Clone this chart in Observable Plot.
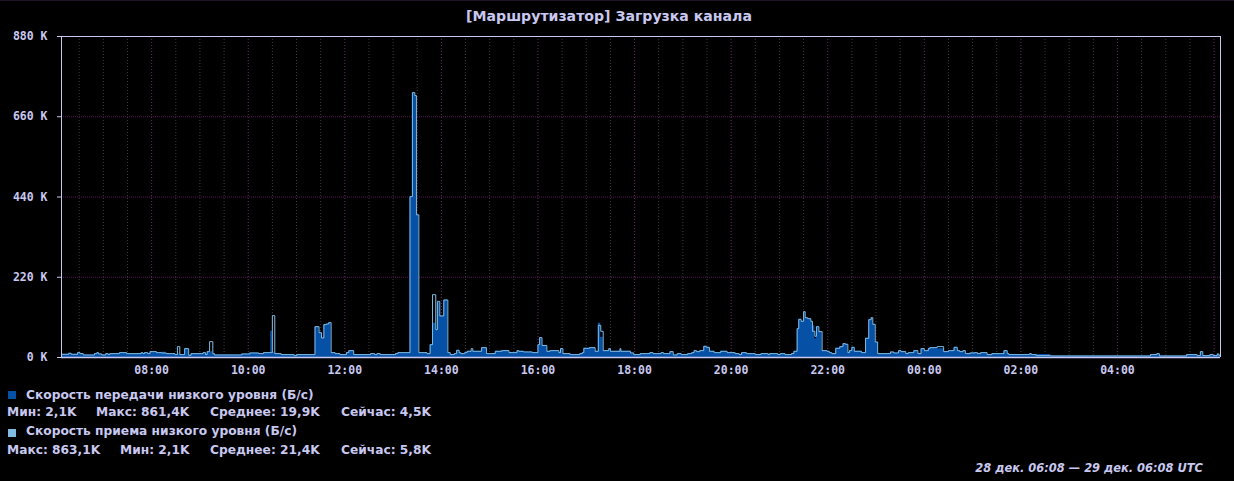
<!DOCTYPE html>
<html><head><meta charset="utf-8">
<script src="https://cdn.jsdelivr.net/npm/d3@7"></script>
<script src="https://cdn.jsdelivr.net/npm/@observablehq/plot@0.6"></script>
<style>
html,body{margin:0;padding:0;background:#000;}
body{width:1234px;height:481px;overflow:hidden;position:relative;font-family:"DejaVu Sans",sans-serif;color:#c8c8f0;}
#topline{position:absolute;left:0;top:0;width:1234px;height:1px;background:#1c1424;}
#title{position:absolute;left:0;top:0;width:1218px;text-align:center;font-weight:bold;line-height:32px;white-space:nowrap;}
#chart{position:absolute;left:0;top:26px;}
.t{position:absolute;font-weight:bold;line-height:14px;white-space:nowrap;}
.sq{position:absolute;width:8px;height:8px;}
#caption{position:absolute;right:31px;top:461px;font-weight:bold;font-style:italic;line-height:14px;white-space:nowrap;}
</style></head><body>
<div id="topline"></div>
<div id="title"></div>
<div id="chart"></div>
<div id="legend"></div>
<div id="caption"></div>
<script>
const titleText = "[Маршрутизатор] Загрузка канала";
const startISO = "2023-12-28T06:08:00Z";
const spanHours = 24;
const yTicksK = [0, 220, 440, 660, 880];
const seriesNames = ["Скорость передачи низкого уровня (Б/с)", "Скорость приема низкого уровня (Б/с)"];
const seriesColors = ["#0650a6", "#80bce2"];
const statsTx = [["Мин", "2,1K"], ["Макс", "861,4K"], ["Среднее", "19,9K"], ["Сейчас", "4,5K"]];
const statsRx = [["Макс", "863,1K"], ["Мин", "2,1K"], ["Среднее", "21,4K"], ["Сейчас", "5,8K"]];
const captionText = "28 дек. 06:08 — 29 дек. 06:08 UTC";

// step start, minutes after 06:08
const stepMin = [0,9,12,20,23,27,41,44,46,50,
 55,58,60,72,81,99,101,103,107,110,
 118,124,130,141,144,147,153,158,161,176,
 179,181,184,188,190,224,234,245,251,260,
 262,265,273,289,292,315,320,323,326,329,
 332,335,340,346,354,357,363,384,389,392,
 396,415,418,433,436,439,441,444,454,458,
 461,465,467,470,475,480,483,488,491,494,
 496,501,504,509,511,522,528,539,547,556,
 566,568,574,585,592,594,597,603,607,618,
 620,623,632,644,647,649,656,663,667,670,
 673,680,682,694,695,707,711,719,731,735,
 745,748,756,760,765,770,778,783,786,789,
 793,798,801,805,811,819,827,837,842,845,
 851,862,869,878,880,890,893,899,907,910,
 914,916,919,922,924,927,931,933,936,938,
 941,945,951,954,957,962,967,971,974,977,
 979,982,985,994,999,1003,1006,1008,1011,1014,
 1030,1034,1040,1043,1049,1052,1059,1064,1068,1072,
 1077,1079,1088,1096,1102,1109,1113,1116,1120,1123,
 1129,1135,1138,1142,1150,1156,1171,1175,1177,1203,
 1205,1211,1229,1353,1361,1364,1398,1411,1415,1418,
 1427,1431,1436,1438];
// receive (приема), K B/s
const rxK = [8.8,11.5,8.8,13.3,10.6,6.9,10.6,13.3,9.7,6.9,
 10.6,7.9,10.6,13.3,10.6,13.3,10.6,13.3,10.6,16.1,
 13.3,12.4,10.6,7.9,29.8,7.9,24.3,6.0,10.6,13.3,
 7.9,16.1,43.5,10.6,6.9,9.7,12.4,10.6,13.3,13.3,
 114.7,10.6,7.9,5.1,7.9,84.5,68.1,53.5,90.1,91.8,
 95.5,13.3,10.6,7.9,13.3,18.8,7.9,10.6,7.9,10.6,
 7.9,10.6,13.3,441,726,718,391,13.3,10.6,35.2,
 172.2,76.3,153.9,113.8,157.6,13.3,7.9,10.6,19.7,13.3,
 10.6,13.3,17.0,24.3,17.0,27.0,10.6,17.0,18.8,13.3,
 18.8,17.0,15.2,13.3,35.2,54.4,33.0,17.0,18.8,13.3,
 24.3,10.6,7.9,10.6,13.3,25.2,27.0,17.0,88.2,71.8,
 18.8,24.3,17.0,24.3,17.0,12.4,7.9,10.6,13.3,10.6,
 13.3,10.6,16.1,6.9,10.6,7.9,10.6,13.3,18.8,16.1,
 18.8,30.7,27.9,17.0,13.3,17.0,13.3,10.6,7.9,13.3,
 10.6,7.9,10.6,7.9,10.6,7.9,10.6,7.9,10.6,17.0,
 79.1,104.6,99.2,125.6,109.1,106.5,99.2,71.8,58.1,84.5,
 70.9,18.8,17.0,13.3,10.6,25.2,29.8,38.0,36.2,13.3,
 18.8,27.9,17.0,13.3,52.6,103.7,109.1,90.9,42.5,10.6,
 15.2,12.4,18.8,16.1,10.6,13.3,18.8,10.6,24.3,18.8,
 24.3,27.0,29.8,16.1,18.8,27.9,18.8,16.1,18.8,10.6,
 12.4,13.3,10.6,13.3,7.9,10.6,18.8,10.6,7.9,10.6,
 7.9,5.1,4.2,7.9,10.6,4.2,7.9,5.1,16.1,5.1,
 7.9,5.1,9.7,6.0];
// transmit (передачи), K B/s
const txK = [8.8,11.5,8.8,13.3,10.6,6.9,10.6,13.3,9.7,6.9,
 10.6,7.9,10.6,13.3,10.6,13.3,10.6,13.3,10.6,16.1,
 13.3,14.2,10.6,7.9,10.6,7.9,24.3,6.0,10.6,13.3,
 7.9,16.1,16.1,10.6,6.9,9.7,12.4,10.6,13.3,71.8,
 14.2,10.6,7.9,5.1,7.9,84.5,68.1,53.5,90.1,91.8,
 95.5,13.3,10.6,7.9,13.3,18.8,7.9,10.6,7.9,10.6,
 7.9,10.6,13.3,441,726,718,391,13.3,10.6,35.2,
 93.7,76.3,150,113.8,157.6,13.3,7.9,10.6,19.7,13.3,
 10.6,13.3,17.0,17.0,17.0,27.0,10.6,17.0,18.8,13.3,
 18.8,17.0,15.2,13.3,35.2,54.4,33.0,17.0,18.8,13.3,
 24.3,10.6,7.9,10.6,13.3,25.2,27.0,17.0,93.7,55.0,
 18.8,24.3,17.0,24.3,17.0,12.4,7.9,10.6,13.3,10.6,
 13.3,10.6,16.1,6.9,10.6,7.9,10.6,13.3,18.8,16.1,
 18.8,30.7,27.9,17.0,13.3,17.0,13.3,10.6,7.9,13.3,
 10.6,7.9,10.6,7.9,10.6,7.9,10.6,7.9,10.6,17.0,
 79.1,104.6,99.2,125.6,109.1,106.5,99.2,86.4,51.7,84.5,
 70.9,18.8,17.0,13.3,10.6,25.2,29.8,38.0,36.2,13.3,
 18.8,27.9,17.0,13.3,52.6,103.7,109.1,90.9,42.5,10.6,
 15.2,12.4,18.8,16.1,10.6,13.3,18.8,10.6,24.3,18.8,
 24.3,27.0,24.3,16.1,18.8,27.9,18.8,16.1,18.8,10.6,
 13.3,13.3,10.6,13.3,7.9,10.6,18.8,10.6,7.9,10.6,
 7.9,7.9,4.2,7.9,10.6,4.2,7.9,5.1,16.1,5.1,
 7.9,5.1,9.7,6.0];

const start = new Date(startISO);
const end = new Date(+start + spanHours * 3600e3);
const data = stepMin.map((m, i) => ({t: new Date(+start + m * 60e3), tx: txK[i], rx: rxK[i]}));
data.push({t: end, tx: txK[txK.length - 1], rx: rxK[rxK.length - 1]});

const grid = d3.utcMinute.every(30).range(new Date(+start + 60e3), end);
const isMajor = d => d.getUTCMinutes() === 0 && d.getUTCHours() % 2 === 0;
const gridMajor = grid.filter(isMajor);
const gridMinor = grid.filter(d => !isMajor(d));
const xTicks = gridMajor.filter(d => +end - +d > 3600e3);
const frame = "#c8c8f0";

const chart = Plot.plot({
  width: 1234, height: 354,
  marginLeft: 61, marginRight: 14, marginTop: 10, marginBottom: 23,
  style: {background: "#000", color: frame, fontFamily: "DejaVu Sans Mono, monospace", overflow: "visible"},
  x: {type: "utc", domain: [start, end], label: null},
  y: {domain: [0, 880], label: null},
  marks: [
    Plot.ruleX(gridMinor, {stroke: "#3a3a46", strokeDasharray: "1,2"}),
    Plot.ruleX(gridMajor, {stroke: "#6a2a6a", strokeDasharray: "1,2"}),
    Plot.ruleY(yTicksK.slice(1, -1), {stroke: "#5a1450", strokeDasharray: "1,1"}),
    Plot.areaY(data, {x: "t", y: "tx", curve: "step-after", fill: seriesColors[0]}),
    Plot.lineY(data, {x: "t", y: "rx", curve: "step-after", stroke: seriesColors[1], strokeWidth: 1}),
    Plot.ruleY([880], {stroke: frame}),
    Plot.ruleX([end], {stroke: frame}),
    Plot.ruleY([0], {stroke: frame, strokeWidth: 1.5}),
    Plot.ruleX([start], {stroke: frame, y1: 0, y2: 880}),
    Plot.axisY({ticks: yTicksK, tickFormat: d => `${d} K`, tickSize: 4, tickPadding: 10, fontSize: 11.5, fontWeight: 600, fill: frame, label: null}),
    Plot.axisX({ticks: xTicks, tickFormat: d3.utcFormat("%H:%M"), tickSize: 0, tickPadding: 8, fontSize: 11.5, fontWeight: 600, fill: frame, label: null})
  ]
});
document.getElementById("chart").appendChild(chart);

// fit font sizes to the reference text widths
const ctx = document.createElement("canvas").getContext("2d");
function fit(text, font, w) { ctx.font = font.replace("SZ", "100px"); return 100 * w / ctx.measureText(text).width; }
const fam = '"DejaVu Sans", sans-serif';
const titleSize = fit(titleText, `bold SZ ${fam}`, 286);
const legSize = fit(seriesNames[0], `bold SZ ${fam}`, 288);
const capSize = fit(captionText, `italic bold SZ ${fam}`, 228);

const tEl = document.getElementById("title");
tEl.textContent = titleText; tEl.style.fontSize = titleSize + "px";

const leg = document.getElementById("legend");
function addText(txt, x, yc) {
  const s = document.createElement("div");
  s.className = "t"; s.textContent = txt; s.style.fontSize = legSize + "px";
  s.style.left = x + "px"; s.style.top = (yc - 7) + "px";
  leg.appendChild(s);
}
function addSq(color, x, y) {
  const s = document.createElement("div");
  s.className = "sq"; s.style.background = color;
  s.style.left = x + "px"; s.style.top = y + "px";
  leg.appendChild(s);
}
const colsTx = [7, 96, 210, 341];
const colsRx = [7, 120, 210, 341];
addSq(seriesColors[0], 8, 391);
addText(seriesNames[0], 26, 395);
statsTx.forEach((s, i) => addText(`${s[0]}: ${s[1]}`, colsTx[i], 412));
addSq(seriesColors[1], 8, 429);
addText(seriesNames[1], 26, 431);
statsRx.forEach((s, i) => addText(`${s[0]}: ${s[1]}`, colsRx[i], 450));
const cEl = document.getElementById("caption");
cEl.textContent = captionText; cEl.style.fontSize = capSize + "px";
</script>
</body></html>
